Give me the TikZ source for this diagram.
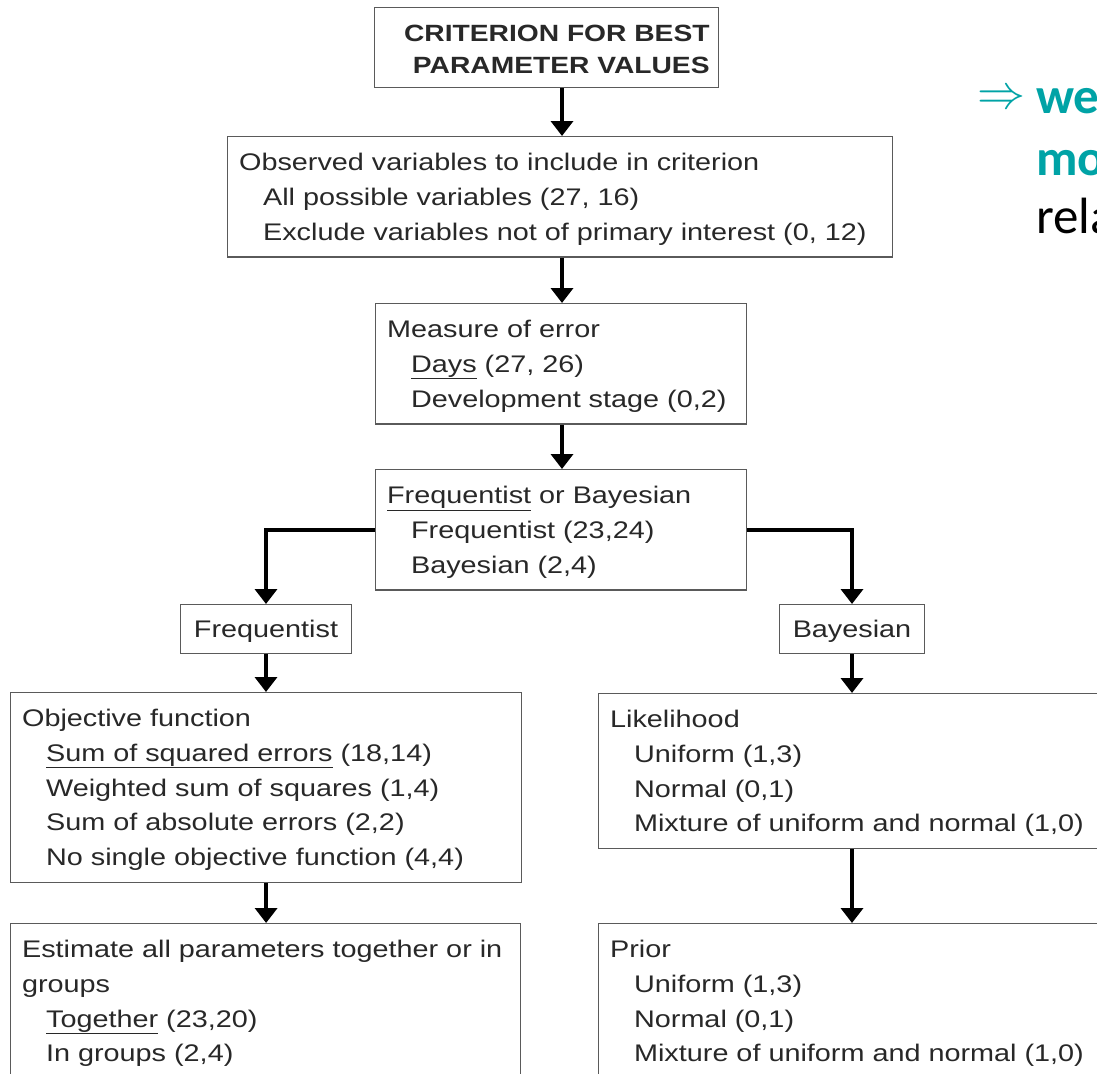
\documentclass[tikz,border=0pt]{standalone}
\usepackage{fontspec}
\setmainfont{Liberation Sans}[FakeStretch=1.2]
\newfontfamily\slidefont{Carlito}
\usepackage{tikz}
\usetikzlibrary{arrows.meta,positioning}

\definecolor{slideteal}{RGB}{0,163,166}
\definecolor{boxline}{RGB}{90,90,90}
\definecolor{boxtext}{RGB}{40,40,40}
\newcommand{\sublevel}{\hspace*{24pt}}

\begin{document}
\begin{tikzpicture}[x=1pt, y=-1pt, >={Triangle[width=22pt,length=15pt]},
					box/.style={draw=boxline, line width=1.2pt, anchor=north west, align=left,
						inner xsep=11.5pt, inner ysep=12pt, text height=22pt, text=boxtext,
						font=\fontsize{24}{34.7}\selectfont},
					smallbox/.style={box, anchor=north, align=center, inner xsep=13.5pt, inner ysep=11pt},
					cutbox/.style={box, text depth=130pt},
					flow/.style={->, line width=3.6pt, black},
					note/.style={anchor=base west, inner sep=0pt, font=\slidefont\fontsize{51}{60}\selectfont}]
	\useasboundingbox (0,0) rectangle (1097,1073);
	\fill[white] (0,0) rectangle (1097,1073);
	\clip (0,0) rectangle (1097,1073);
	\coordinate (spine) at (562,0);
	% main column
	\node[box, align=right, text width=326pt, inner xsep=9pt, text depth=34pt,
		font=\bfseries\fontsize{23.5}{32.3}\selectfont] (crit) at (374,7)
		{CRITERION FOR BEST\\PARAMETER VALUES};
	\node[box, text width=642pt] (obs) at (227,136)
		{Observed variables to include in criterion\\
		\sublevel All possible variables (27, 16)\\
		\sublevel Exclude variables not of primary interest (0, 12)};
	\node[box, text width=348pt] (err) at (375,303)
		{Measure of error\\
		\sublevel \underline{Days} (27, 26)\\
		\sublevel Development stage (0,2)};
	\node[box, text width=348pt] (fob) at (375,469)
		{\underline{Frequentist} or Bayesian\\
		\sublevel Frequentist (23,24)\\
		\sublevel Bayesian (2,4)};
	% two branches
	\node[smallbox] (freq) at (266,604) {Frequentist};
	\node[smallbox] (bayes) at (852,604) {Bayesian};
	\node[box, text width=488pt] (obj) at (10,692)
		{Objective function\\
		\sublevel \underline{Sum of squared errors} (18,14)\\
		\sublevel Weighted sum of squares (1,4)\\
		\sublevel Sum of absolute errors (2,2)\\
		\sublevel No single objective function (4,4)};
	\node[cutbox, text width=487pt] (est) at (10,923)
		{Estimate all parameters together or in\\
		groups\\
		\sublevel \underline{Together} (23,20)\\
		\sublevel In groups (2,4)};
	\node[box, text width=500pt] (lik) at (598,693)
		{Likelihood\\
		\sublevel Uniform (1,3)\\
		\sublevel Normal (0,1)\\
		\sublevel Mixture of uniform and normal (1,0)};
	\node[cutbox, text width=500pt] (prior) at (598,923)
		{Prior\\
		\sublevel Uniform (1,3)\\
		\sublevel Normal (0,1)\\
		\sublevel Mixture of uniform and normal (1,0)};
	% connectors
	\foreach \a/\b in {crit/obs, obs/err, err/fob}
		\draw[flow] (\a.south -| spine) -- (\b.north -| spine);
	\draw[flow] (fob.west) -| (freq.north);
	\draw[flow] (fob.east) -| (bayes.north);
	\foreach \a/\b in {freq/obj, obj/est, bayes/lik}
		\draw[flow] (\a.south) -- (\a.south |- \b.north);
	\draw[flow] (lik.south -| bayes) -- (prior.north -| bayes);
	% slide text on the right
	\node[anchor=east, inner sep=0pt, text=slideteal] (implies) at (1026,100) {\scalebox{4.8}{$\Rightarrow$}};
	\node[note, text=slideteal] (we) at (1036,113) {\bfseries we};
	\node[note, text=slideteal] (mo) at (1036,175) {\bfseries mo};
	\node[note, text=black] (rela) at (1036,233) {rela};
\end{tikzpicture}
\end{document}
